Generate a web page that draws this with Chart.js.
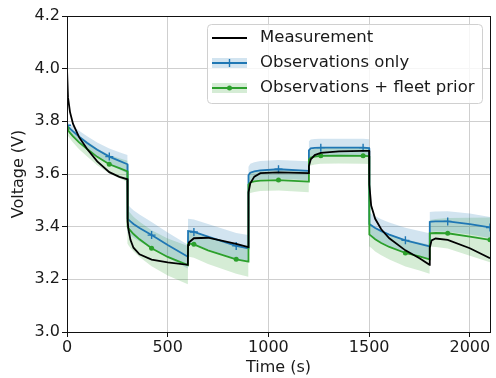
<!DOCTYPE html>
<html>
<head>
<meta charset="utf-8">
<title>Voltage vs time</title>
<script src="https://cdn.jsdelivr.net/npm/chart.js@4.4.1/dist/chart.umd.min.js"></script>
<style>
  html, body { margin: 0; padding: 0; background: #fff; }
  #wrap { width: 496px; height: 378px; position: relative; }
</style>
</head>
<body>
<div id="wrap"><canvas id="chart"></canvas></div>
<script>
// --- data ---
// time (s), one shared axis for all series; the steps sit at 300 / 301 etc.
const time = [
  0, 5, 15, 30, 60, 100, 150, 210, 260, 300,
  301, 305, 315, 330, 360, 420, 500, 600,
  601, 605, 630, 700, 840, 900,
  901, 910, 930, 960, 1050, 1200,
  1201, 1210, 1230, 1260, 1350, 1470, 1500,
  1501, 1510, 1530, 1560, 1600, 1680, 1750, 1800,
  1801, 1810, 1830, 1890, 2000, 2100
];

// measured voltage (V)
const measured = [
  4.00, 3.89, 3.835, 3.79, 3.74, 3.695, 3.648, 3.607, 3.589, 3.58,
  3.42, 3.39, 3.35, 3.32, 3.295, 3.275, 3.264, 3.255,
  3.33, 3.34, 3.356, 3.358, 3.335, 3.322,
  3.53, 3.565, 3.59, 3.603, 3.606, 3.603,
  3.63, 3.655, 3.672, 3.68, 3.686, 3.688, 3.688,
  3.56, 3.48, 3.43, 3.39, 3.356, 3.31, 3.28, 3.255,
  3.32, 3.348, 3.355, 3.35, 3.318, 3.28
];

// model using observations only: mean and half-width of band
const obsOnly = [
  3.785, 3.78, 3.772, 3.762, 3.742, 3.718, 3.692, 3.666, 3.65, 3.637,
  3.43, 3.427, 3.42, 3.41, 3.395, 3.368, 3.33, 3.286,
  3.383, 3.383, 3.38, 3.362, 3.327, 3.318,
  3.595, 3.605, 3.61, 3.614, 3.618, 3.612,
  3.69, 3.697, 3.699, 3.70, 3.70, 3.70, 3.698,
  3.41, 3.405, 3.395, 3.383, 3.37, 3.348, 3.335, 3.325,
  3.418, 3.419, 3.42, 3.42, 3.41, 3.397
];
const obsOnlyBand = [
  0.015, 0.016, 0.017, 0.019, 0.022, 0.025, 0.028, 0.031, 0.033, 0.035,
  0.054, 0.054, 0.053, 0.052, 0.051, 0.050, 0.048, 0.045,
  0.047, 0.047, 0.047, 0.048, 0.049, 0.050,
  0.033, 0.034, 0.035, 0.035, 0.035, 0.036,
  0.034, 0.034, 0.034, 0.034, 0.034, 0.034, 0.034,
  0.044, 0.044, 0.045, 0.045, 0.046, 0.048, 0.049, 0.050,
  0.038, 0.038, 0.038, 0.039, 0.040, 0.040
];

// model using observations + fleet prior
const obsFleet = [
  3.773, 3.766, 3.756, 3.743, 3.72, 3.695, 3.665, 3.637, 3.622, 3.61,
  3.40, 3.394, 3.385, 3.372, 3.352, 3.318, 3.285, 3.254,
  3.335, 3.336, 3.333, 3.31, 3.276, 3.267,
  3.56, 3.568, 3.572, 3.575, 3.577, 3.571,
  3.655, 3.662, 3.666, 3.669, 3.67, 3.669, 3.668,
  3.37, 3.365, 3.352, 3.338, 3.323, 3.30, 3.287, 3.276,
  3.375, 3.375, 3.376, 3.375, 3.362, 3.35
];
const obsFleetBand = [
  0.020, 0.021, 0.022, 0.023, 0.026, 0.029, 0.032, 0.035, 0.038, 0.040,
  0.065, 0.065, 0.066, 0.066, 0.067, 0.068, 0.070, 0.073,
  0.050, 0.050, 0.051, 0.052, 0.055, 0.057,
  0.040, 0.040, 0.040, 0.040, 0.040, 0.040,
  0.030, 0.030, 0.030, 0.030, 0.030, 0.030, 0.030,
  0.045, 0.045, 0.046, 0.047, 0.048, 0.051, 0.053, 0.055,
  0.050, 0.051, 0.053, 0.058, 0.072, 0.085
];

const markerEvery = 210; // a marker every 210 s on the model lines
const xTicks = [0, 500, 1000, 1500, 2000];
const yTicks = [3.0, 3.2, 3.4, 3.6, 3.8, 4.0, 4.2];
const legendLabels = ['Measurement', 'Observations only', 'Observations + fleet prior'];

// colours (matplotlib defaults)
const BLUE = '#1f77b4';
const GREEN = '#2ca02c';
const BLUE_FILL = 'rgba(31,119,180,0.2)';
const GREEN_FILL = 'rgba(44,160,44,0.2)';
const FONT = '"DejaVu Sans", sans-serif';

// --- build point lists ---
function pts(vals, off, sign){
  return time.map((t,i)=>({ x: t, y: off ? vals[i] + sign*off[i] : vals[i] }));
}
function markerRadius(r){
  return ctx => (ctx.raw && ctx.raw.x % markerEvery === 0) ? r : 0;
}

const bandBase = { borderWidth: 0, pointRadius: 0, tension: 0 };

const datasets = [
  // lines (drawn on top: low order)
  { label: legendLabels[0], data: pts(measured), borderColor: '#000', borderWidth: 1.8,
    pointRadius: 0, tension: 0, fill: false, order: 0 },
  { label: legendLabels[1], data: pts(obsOnly), borderColor: BLUE, borderWidth: 1.8,
    pointStyle: 'cross', pointRadius: markerRadius(4), pointBorderColor: BLUE,
    pointBorderWidth: 1.4, tension: 0, fill: false, order: 2 },
  { label: legendLabels[2], data: pts(obsFleet), borderColor: GREEN, borderWidth: 1.8,
    pointStyle: 'circle', pointRadius: markerRadius(2.5), pointBackgroundColor: GREEN,
    pointBorderWidth: 0, tension: 0, fill: false, order: 1 },
  // bands
  { ...bandBase, label: 'blueLo', data: pts(obsOnly, obsOnlyBand, -1), fill: false, order: 10 },
  { ...bandBase, label: 'blueHi', data: pts(obsOnly, obsOnlyBand, 1), fill: 3, backgroundColor: BLUE_FILL, order: 11 },
  { ...bandBase, label: 'greenLo', data: pts(obsFleet, obsFleetBand, -1), fill: false, order: 12 },
  { ...bandBase, label: 'greenHi', data: pts(obsFleet, obsFleetBand, 1), fill: 5, backgroundColor: GREEN_FILL, order: 13 }
];

// spines + legend box like matplotlib
const framePlugin = {
  id: 'frame',
  afterDraw(chart){
    const {ctx, chartArea: a} = chart;
    ctx.save();
    ctx.strokeStyle = '#111';
    ctx.lineWidth = 1;
    ctx.strokeRect(Math.round(a.left)+0.5, Math.round(a.top)+0.5,
                   Math.round(a.right-a.left), Math.round(a.bottom-a.top));

    // legend
    const bx = 207, by = 24, bw = 275, bh = 79;
    ctx.beginPath();
    ctx.roundRect(bx+0.5, by+0.5, bw, bh, 4);
    ctx.fillStyle = 'rgba(255,255,255,0.8)';
    ctx.fill();
    ctx.strokeStyle = '#d0d0d0';
    ctx.stroke();

    const hx0 = 212, hx1 = 247, rows = [38, 63, 88];
    // measurement
    ctx.strokeStyle = '#000'; ctx.lineWidth = 1.8;
    ctx.beginPath(); ctx.moveTo(hx0, rows[0]); ctx.lineTo(hx1, rows[0]); ctx.stroke();
    // obs only
    ctx.fillStyle = BLUE_FILL; ctx.fillRect(hx0, rows[1]-5, hx1-hx0, 10);
    ctx.strokeStyle = BLUE;
    ctx.beginPath(); ctx.moveTo(hx0, rows[1]); ctx.lineTo(hx1, rows[1]); ctx.stroke();
    const cx = (hx0+hx1)/2;
    ctx.lineWidth = 1.4;
    ctx.beginPath(); ctx.moveTo(cx, rows[1]-4); ctx.lineTo(cx, rows[1]+4); ctx.stroke();
    // obs + fleet
    ctx.fillStyle = GREEN_FILL; ctx.fillRect(hx0, rows[2]-5, hx1-hx0, 10);
    ctx.strokeStyle = GREEN; ctx.lineWidth = 1.8;
    ctx.beginPath(); ctx.moveTo(hx0, rows[2]); ctx.lineTo(hx1, rows[2]); ctx.stroke();
    ctx.fillStyle = GREEN;
    ctx.beginPath(); ctx.arc(cx, rows[2], 2.5, 0, Math.PI*2); ctx.fill();

    ctx.fillStyle = '#1a1a1a';
    ctx.font = '16.5px ' + FONT;
    ctx.textBaseline = 'middle';
    legendLabels.forEach((t,i)=> ctx.fillText(t, 260, rows[i]));
    ctx.restore();
  }
};

new Chart(document.getElementById('chart'), {
  type: 'line',
  data: { datasets },
  plugins: [framePlugin],
  options: {
    responsive: true,
    maintainAspectRatio: false,
    animation: false,
    events: [],
    layout: { padding: { top: 16, right: 6, left: 0, bottom: 0 } },
    plugins: {
      legend: { display: false },
      tooltip: { enabled: false },
      filler: { drawTime: 'beforeDatasetsDraw' }
    },
    scales: {
      x: {
        type: 'linear', min: 0, max: 2100,
        afterBuildTicks: s => { s.ticks = xTicks.map(v=>({ value: v })); },
        afterFit: s => { s.height = 46; },
        grid: { color: '#cfcfcf', lineWidth: 1, tickLength: 5, tickColor: '#111' },
        border: { display: false },
        ticks: { color: '#1a1a1a', font: { family: FONT, size: 16 }, padding: 1, maxRotation: 0,
                 callback: v => String(v) },
        title: { display: true, text: 'Time (s)', color: '#1a1a1a',
                 font: { family: FONT, size: 16 }, padding: { top: 0, bottom: 1 } }
      },
      y: {
        min: 3.0, max: 4.2,
        afterBuildTicks: s => { s.ticks = yTicks.map(v=>({ value: v })); },
        afterFit: s => { s.width = 67; },
        grid: { color: '#cfcfcf', lineWidth: 1, tickLength: 5, tickColor: '#111' },
        border: { display: false },
        ticks: { color: '#1a1a1a', font: { family: FONT, size: 16 }, padding: 2,
                 callback: v => v.toFixed(1) },
        title: { display: true, text: 'Voltage (V)', color: '#1a1a1a',
                 font: { family: FONT, size: 16 }, padding: { top: 9, bottom: 0 } }
      }
    }
  }
});
</script>
</body>
</html>
